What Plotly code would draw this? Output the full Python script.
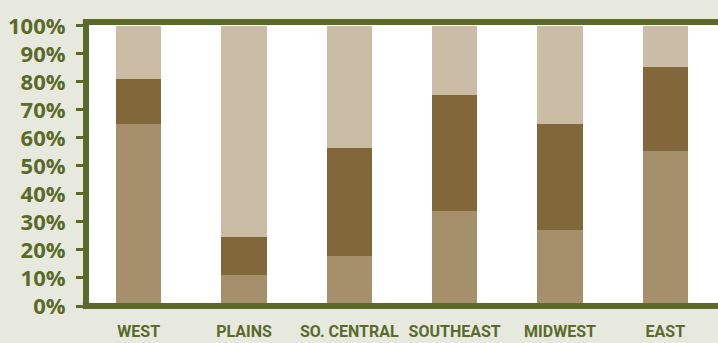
import plotly.graph_objects as go

regions = ["WEST", "PLAINS", "SO. CENTRAL", "SOUTHEAST", "MIDWEST", "EAST"]
bottom_vals = [65, 11, 18, 34, 27, 55.5]
middle_vals = [16, 13.5, 38.5, 41.5, 38, 30]
top_vals = [19, 75.5, 43.5, 24.5, 35, 14.5]
tick_vals = [0, 10, 20, 30, 40, 50, 60, 70, 80, 90, 100]
tick_text = [f"{v}%" for v in tick_vals]

OLIVE = "#5a6a2a"
BG = "#e7e9df"

fig = go.Figure()
fig.add_trace(go.Bar(x=regions, y=bottom_vals, marker=dict(color="#a68f6b", line=dict(width=0)), name="bottom"))
fig.add_trace(go.Bar(x=regions, y=middle_vals, marker=dict(color="#82673b", line=dict(width=0)), name="middle"))
fig.add_trace(go.Bar(x=regions, y=top_vals, marker=dict(color="#cbbca6", line=dict(width=0)), name="top"))

frame = dict(color=OLIVE, width=6)
fig.add_shape(type="line", xref="paper", yref="paper", x0=0, x1=0, y0=-0.011, y1=1.011, line=frame, layer="above")
fig.add_shape(type="line", xref="paper", yref="paper", x0=-0.005, x1=1.01, y0=0, y1=0, line=frame, layer="above")
fig.add_shape(type="line", xref="paper", yref="paper", x0=-0.005, x1=1.01, y0=1, y1=1, line=frame, layer="above")

fig.update_layout(
    width=718, height=343,
    margin=dict(l=86, r=0, t=22, b=37, autoexpand=False),
    barmode="stack",
    bargap=0.57,
    showlegend=False,
    paper_bgcolor=BG,
    plot_bgcolor="white",
    xaxis=dict(
        showgrid=False, zeroline=False, showline=False, ticks="",
        tickangle=0, automargin=False,
        tickfont=dict(family="Roboto", size=16, color=OLIVE, weight="bold"),
        ticklabelstandoff=14,
    ),
    yaxis=dict(
        range=[0, 101.4], showgrid=False, zeroline=False, showline=False,
        automargin=False,
        tickmode="array", tickvals=tick_vals, ticktext=tick_text,
        ticks="outside", ticklen=9, tickwidth=3, tickcolor=OLIVE,
        tickfont=dict(family="Open Sans", size=22, color=OLIVE, weight="bold"),
        ticklabelstandoff=6,
    ),
)

fig.write_html(
    "out.html",
    config={"displayModeBar": False},
    post_script="document.body.style.margin='0';document.body.style.overflow='hidden';",
)
